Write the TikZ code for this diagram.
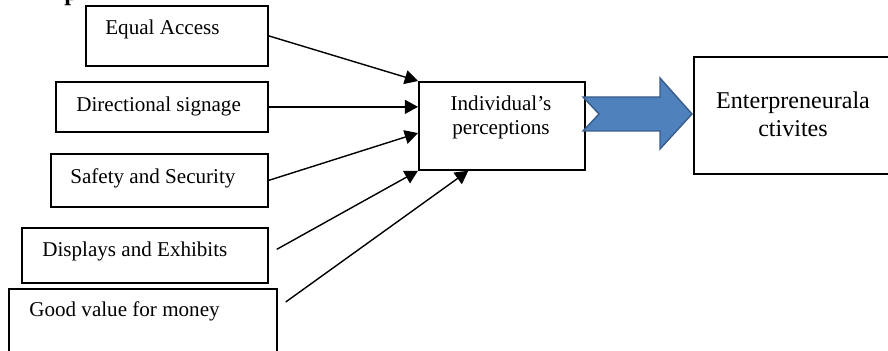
\documentclass[tikz,border=0pt]{standalone}
\usepackage{fontspec}
\setmainfont{Liberation Serif}
\usetikzlibrary{arrows.meta, positioning, calc}
\definecolor{arrowblue}{RGB}{79,129,189}
\definecolor{arrowedge}{RGB}{56,93,138}

\tikzset{
    box/.style={draw, line width=1pt, rectangle, inner sep=0pt, anchor=north west},
    txt/.style={inner sep=0pt, anchor=base west, font=\fontsize{12}{13.7}\selectfont},
    arr/.style={-{Triangle[length=7.5pt, width=8pt]}, line width=0.8pt}
}

\begin{document}
\begin{tikzpicture}[x=0.02cm, y=-0.02cm]
        \useasboundingbox (0,0) rectangle (888,351);
        % heading, cut off at the top
        \node[inner sep=0pt, anchor=base west, font=\bfseries\fontsize{14}{16}\selectfont] (head) at (64,1) {p};

        % factors
        \node[box, minimum width=3.64cm, minimum height=1.2cm] (eq) at (85,5) {};
        \node[box, minimum width=4.24cm, minimum height=1.0cm] (dir) at (55,81) {};
        \node[box, minimum width=4.34cm, minimum height=1.06cm] (safe) at (50,153) {};
        \node[box, minimum width=4.92cm, minimum height=1.1cm] (disp) at (21,227) {};
        \node[box, minimum width=5.36cm, minimum height=1.6cm] (good) at (8,288) {};
        \node[txt] (eqtxt) at (105,35) {Equal Access};
        \node[txt] (dirtxt) at (76,112) {Directional signage};
        \node[txt] (safetxt) at (70,184) {Safety and Security};
        \node[txt] (disptxt) at (42,256) {Displays and Exhibits};
        \node[txt] (goodtxt) at (29,316) {Good value for money};

        % perception and outcome
        \node[box, minimum width=3.32cm, minimum height=1.76cm] (ind) at (418,81) {};
        \node[txt, anchor=base, align=center] (indtxt) at (501,135) {Individual's\\perceptions};
        \node[box, minimum width=4.2cm, minimum height=2.34cm] (ent) at (693,56) {};
        \node[inner sep=0pt, anchor=base, align=center, font=\fontsize{13.7}{16.5}\selectfont] (enttxt) at (793,137) {Enterpreneurala\\ctivites};

        % arrows into the perception box
        \draw[arr] (eq.east) -- (ind.north west);
        \draw[arr] (dir.east) -- (dir.east -| ind.west);
        \draw[arr] (safe.east) -- ($(ind.north west)!0.58!(ind.south west)$);
        \coordinate (dispout) at ($(disp.east)+(8,-6)$);
        \draw[arr] (dispout) -- (ind.south west);
        \coordinate (goodout) at ($(good.north east)+(8,14)$);
        \draw[arr] (goodout) -- ($(ind.south west)!0.3!(ind.south east)$);

        % block arrow
        \draw[fill=arrowblue, draw=arrowedge, line width=0.8pt] (583,97) -- (660,97) -- (660,78) -- (692,114)
            -- (660,149) -- (660,131) -- (583,131) -- (599,114) -- cycle;
\end{tikzpicture}
\end{document}
